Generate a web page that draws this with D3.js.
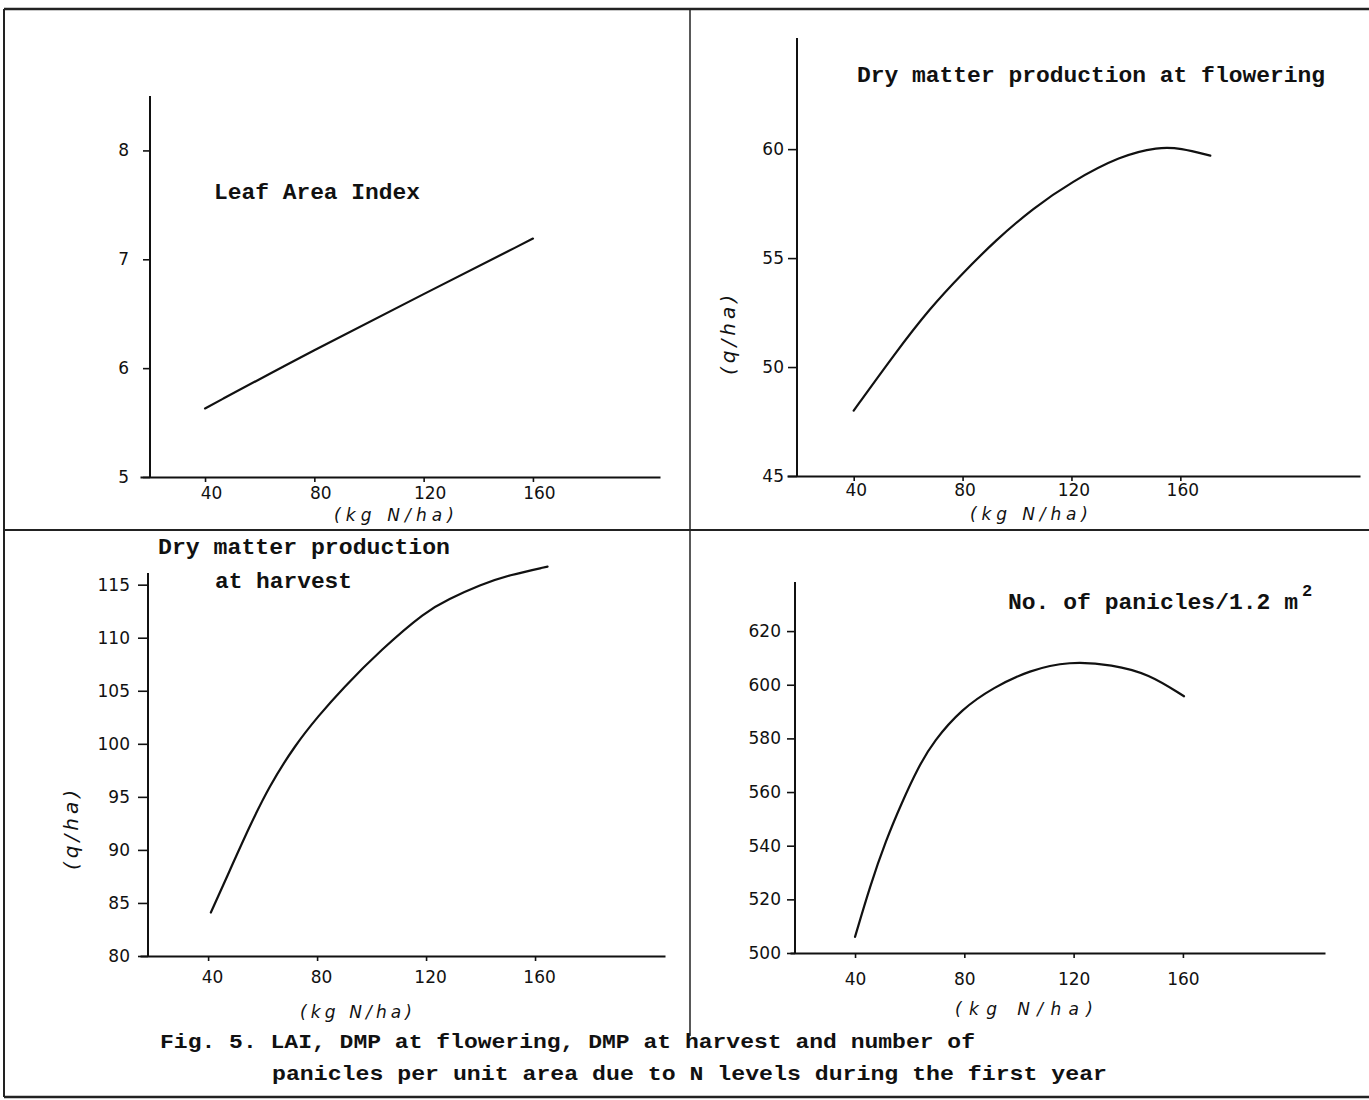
<!DOCTYPE html>
<html>
<head>
<meta charset="utf-8">
<script src="https://cdn.jsdelivr.net/npm/d3@7/dist/d3.min.js"></script>
<style>
  html, body { margin: 0; padding: 0; background: #fff; }
  svg { display: block; }
  .type { font-family: "Liberation Mono", "DejaVu Sans Mono", monospace; font-weight: bold; fill: #111; }
  .hand { font-family: "DejaVu Sans", sans-serif; fill: #111; }
</style>
</head>
<body>
<svg id="fig" width="1369" height="1100"></svg>
<script>
// Nitrogen levels (kg N/ha) and responses for each panel
const xTicks = [40, 80, 120, 160];

const laiN = [40, 80, 120, 160];
const laiValues = [5.63, 6.17, 6.68, 7.19];
const laiTicks = [5, 6, 7, 8];

const flowerN = [40, 55, 68, 80, 92, 106, 120, 138, 152, 160, 171];
const flowerValues = [48.0, 50.6, 52.7, 54.3, 55.8, 57.3, 58.5, 59.7, 60.1, 60.05, 59.7];
const flowerTicks = [45, 50, 55, 60];

const harvestN = [41, 47.5, 55, 62.4, 72, 80.4, 89.3, 103.6, 120, 128, 140, 150.4, 164.6];
const harvestValues = [84.1, 87.8, 92.1, 96.0, 99.9, 102.6, 105.2, 108.9, 112.5, 113.6, 115.0, 115.9, 116.7];
const harvestTicks = [80, 85, 90, 95, 100, 105, 110, 115];

const panicleN = [40, 45.5, 51.3, 57.1, 63, 68.8, 79.1, 90.7, 103.8, 118.3, 134.3, 147.4, 160.4];
const panicleValues = [506, 525, 542, 556, 569, 579, 591, 599, 605.4, 608.8, 607.5, 604.1, 595.7];
const panicleTicks = [500, 520, 540, 560, 580, 600, 620];

const titles = {
  lai: ["Leaf Area Index"],
  flower: ["Dry matter production at flowering"],
  harvest: ["Dry matter production", "at harvest"],
  panicle: ["No. of panicles/1.2 m"]
};
const caption = [
  "Fig. 5. LAI, DMP at flowering, DMP at harvest and number of",
  "panicles per unit area due to N levels during the first year"
];
const xAxisLabel = "(kg N/ha)";
const yAxisLabel = "(q/ha)";

const svg = d3.select("#fig");

// Page frame and panel dividers
const frame = svg.append("g").attr("stroke", "#222").attr("fill", "none");
frame.append("line").attr("x1", 4).attr("y1", 9).attr("x2", 1369).attr("y2", 9).attr("stroke-width", 2.5);
frame.append("line").attr("x1", 4).attr("y1", 9).attr("x2", 4).attr("y2", 1097).attr("stroke-width", 2);
frame.append("line").attr("x1", 4).attr("y1", 1097).attr("x2", 1369).attr("y2", 1097).attr("stroke-width", 2.5);
frame.append("line").attr("x1", 690).attr("y1", 9).attr("x2", 690).attr("y2", 1036).attr("stroke-width", 1.5);
frame.append("line").attr("x1", 4).attr("y1", 530).attr("x2", 1369).attr("y2", 530).attr("stroke-width", 2);

function panel(cfg) {
  const g = svg.append("g");
  const x = d3.scaleLinear().domain(cfg.xDomain).range(cfg.xRange);
  const y = d3.scaleLinear().domain(cfg.yDomain).range(cfg.yRange);
  const x0 = cfg.yAxisX, y0 = cfg.yRange[0];

  const yAxis = d3.axisLeft(y).tickValues(cfg.yTicks).tickSize(cfg.yTickSize)
    .tickSizeOuter(0).tickPadding(cfg.yTickPad).tickFormat(d3.format("d"));
  const yg = g.append("g").attr("transform", `translate(${x0},0)`).call(yAxis);

  const xAxis = d3.axisBottom(x).tickValues(xTicks).tickSize(5)
    .tickSizeOuter(0).tickPadding(cfg.xTickPad).tickFormat(d3.format("d"));
  const xg = g.append("g").attr("transform", `translate(0,${y0})`).call(xAxis);

  [yg, xg].forEach(a => {
    a.select(".domain").attr("stroke", "#111").attr("stroke-width", 2);
    a.selectAll(".tick line").attr("stroke", "#111").attr("stroke-width", 1.6);
    a.selectAll(".tick text").attr("class", "hand").attr("font-size", 17).attr("fill", "#111");
  });
  // the vertical axis rises from the horizontal one
  yg.select(".domain").attr("d", `M0,${y0}V${cfg.yRange[1]}`);
  xg.selectAll(".tick text").attr("dx", cfg.xTickDx);

  const line = d3.line().x((d, i) => x(cfg.n[i])).y(d => y(d)).curve(d3.curveBasis);
  g.append("path").datum(cfg.values).attr("d", line)
    .attr("fill", "none").attr("stroke", "#111").attr("stroke-width", 2.2)
    .attr("stroke-linecap", "round");

  cfg.title.forEach((t, i) => {
    g.append("text").attr("class", "type").attr("font-size", 22)
      .attr("x", cfg.titlePos[i][0]).attr("y", cfg.titlePos[i][1])
      .attr("textLength", cfg.titlePos[i][2]).attr("lengthAdjust", "spacingAndGlyphs")
      .text(t);
  });

  // hand-lettered unit label under the N axis, widely spaced
  g.append("text").attr("class", "hand").attr("font-size", 17).attr("font-style", "italic")
    .attr("x", cfg.xLabel[0]).attr("y", cfg.xLabel[1])
    .attr("textLength", cfg.xLabel[2]).attr("lengthAdjust", "spacing")
    .text(xAxisLabel);

  if (cfg.yLabel) {
    g.append("text").attr("class", "hand").attr("font-size", 20).attr("font-style", "italic")
      .attr("text-anchor", "middle")
      .attr("transform", `translate(${cfg.yLabel[0]},${cfg.yLabel[1]}) rotate(-90)`)
      .attr("textLength", 80).attr("lengthAdjust", "spacing")
      .text(yAxisLabel);
  }
  return g;
}

panel({
  n: laiN, values: laiValues, yTicks: laiTicks,
  xDomain: [16.2, 206.5], xRange: [140, 660],
  yDomain: [5, 8.5], yRange: [477, 96], yAxisX: 150,
  yTickSize: 7, yTickPad: 14, xTickPad: 5, xTickDx: 6,
  title: titles.lai, titlePos: [[214, 199, 206]],
  xLabel: [334, 521, 120]
});

panel({
  n: flowerN, values: flowerValues, yTicks: flowerTicks,
  xDomain: [15.5, 226], xRange: [787, 1360],
  yDomain: [45, 65.1], yRange: [476, 38], yAxisX: 797,
  yTickSize: 9, yTickPad: 4, xTickPad: 3, xTickDx: 2,
  title: titles.flower, titlePos: [[857, 82, 468]],
  xLabel: [970, 520, 118], yLabel: [735, 335]
});

panel({
  n: harvestN, values: harvestValues, yTicks: harvestTicks,
  xDomain: [15, 207.7], xRange: [140, 665],
  yDomain: [80, 116.1], yRange: [956, 573], yAxisX: 148,
  yTickSize: 10, yTickPad: 8, xTickPad: 10, xTickDx: 4,
  title: titles.harvest, titlePos: [[158, 554, 292], [215, 588, 137]],
  xLabel: [300, 1018, 112], yLabel: [78, 830]
});

const p4 = panel({
  n: panicleN, values: panicleValues, yTicks: panicleTicks,
  xDomain: [16.2, 212], xRange: [790, 1325],
  yDomain: [500, 638.3], yRange: [953, 582], yAxisX: 795,
  yTickSize: 8, yTickPad: 6, xTickPad: 15, xTickDx: 0,
  title: titles.panicle, titlePos: [[1008, 609, 290]],
  xLabel: [955, 1015, 138]
});
p4.append("text").attr("class", "type").attr("font-size", 17)
  .attr("x", 1302).attr("y", 596).text("2");

// Figure caption
const cap = svg.append("g");
cap.append("text").attr("class", "type").attr("font-size", 21)
  .attr("x", 160).attr("y", 1048).attr("textLength", 815).attr("lengthAdjust", "spacingAndGlyphs")
  .text(caption[0]);
cap.append("text").attr("class", "type").attr("font-size", 21)
  .attr("x", 272).attr("y", 1080).attr("textLength", 835).attr("lengthAdjust", "spacingAndGlyphs")
  .text(caption[1]);
</script>
</body>
</html>
